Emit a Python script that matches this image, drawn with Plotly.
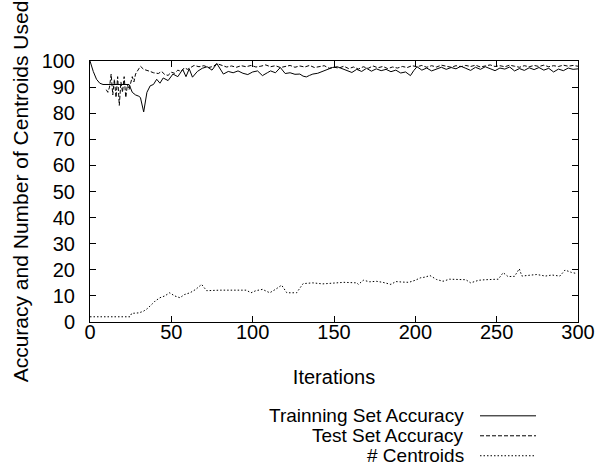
import plotly.graph_objects as go

# ---- data ----
train_x = [0, 2, 4, 6, 8, 10, 12, 14, 16, 18, 20, 22, 24, 26, 28, 30, 31, 33, 35, 37, 39, 41, 43, 45, 48,
           51, 54, 57, 59, 61, 63, 66, 69, 72, 75, 78, 80, 82, 85, 88, 91, 94, 97, 100, 103, 106, 109,
           111, 114, 117, 120, 123, 126, 129, 131, 133, 135, 137, 140, 143, 146, 149, 152, 155, 158,
           161, 164, 167, 170, 173, 176, 179, 182, 185, 188, 191, 194, 197, 199, 201, 204, 207, 210,
           213, 216, 219, 222, 225, 228, 231, 234, 237, 240, 243, 246, 249, 252, 255, 258, 261, 264,
           267, 270, 273, 276, 279, 282, 285, 288, 291, 294, 297, 300]
train_y = [100, 96, 93, 91.5, 91, 91, 91, 91, 91, 91, 91, 91, 91, 88, 87, 86.5, 86, 80.5, 88, 90.5, 91,
           93, 91.5, 93.5, 92.5, 95, 94, 96.8, 94, 97, 93.8, 96, 97.2, 97.8, 96.5, 99, 97, 95, 96, 95.5,
           96.2, 95.3, 94.8, 95.8, 96.2, 94.4, 95.5, 96.2, 95.5, 97.5, 95.2, 95.5, 94.9, 95, 94.2, 93.9,
           94.5, 95, 95.3, 96, 96.6, 97.5, 97.8, 97, 96.5, 95.6, 96.8, 96, 97.2, 96.1, 97, 96.3, 96.8,
           95.9, 96.5, 95.4, 95.8, 94.4, 96.3, 97.8, 96.5, 97.3, 96.2, 96.9, 97.6, 96.8, 97.5, 97, 98,
           97.2, 96.4, 97.6, 96.8, 97.8, 97, 96.3, 97.3, 96.9, 97.7, 96.2, 97.1, 96.4, 97.4, 96.7, 97.5,
           96.5, 97.2, 95.8, 96.9, 96.3, 97.3, 96.8, 97]

test_x = [10, 11, 12, 13, 14, 15, 16, 17, 18, 19, 20, 21, 22, 23, 24, 25, 26, 27, 28, 30, 31, 33, 35,
          37, 39, 42, 44, 46, 48, 50, 52, 54, 56, 58, 60, 62, 64, 67, 70, 73, 76, 78, 81, 84, 87, 90,
          93, 96, 99, 102, 105, 108, 111, 114, 117, 120, 123, 126, 129, 132, 135, 138, 141, 144, 147,
          150, 153, 156, 159, 162, 165, 168, 171, 174, 177, 180, 183, 186, 189, 192, 195, 198, 201,
          204, 207, 210, 213, 216, 219, 222, 225, 228, 231, 234, 237, 240, 243, 246, 249, 252, 255,
          258, 261, 264, 267, 270, 273, 276, 279, 282, 285, 288, 291, 294, 297, 300]
test_y = [89, 88, 90, 95, 87, 93, 86, 94, 83, 92, 88, 94, 86, 91, 89, 92, 94, 92, 95, 97, 98, 96.8,
          96.5, 96, 95.5, 95.2, 96, 94.8, 94.5, 95.7, 95.3, 96.5, 96, 97.4, 96.8, 97.6, 98.3, 97.8,
          98.2, 97.5, 98, 99, 98.2, 97.7, 98.1, 97.6, 98.2, 97.8, 98.3, 97.7, 98, 98.5, 97.8, 98.2,
          97.5, 98, 98.3, 97.6, 98.1, 97.7, 98.3, 97.5, 97.8, 98.2, 97.2, 97.6, 97.3, 98, 97.1, 97.7,
          96.9, 97.8, 97.2, 98.1, 97.4, 97.9, 97.1, 97.7, 97.3, 97.9, 97.5, 98.2, 97.8, 98.3, 97.6,
          98.2, 97.7, 98.4, 98, 97.6, 98.2, 97.8, 98.3, 97.9, 98.4, 97.7, 98.1, 98.5, 97.9, 98.2, 97.8,
          98.4, 98, 97.6, 98.2, 97.8, 98.3, 97.9, 98.4, 97.8, 98.2, 97.9, 98.4, 98, 98.3, 98]

cent_x = [0, 24.6, 25.6, 30, 32.8, 35, 37.9, 40, 43, 46, 49, 52, 55.3, 58, 61.5, 65, 68.6, 71.7, 80,
          90, 96, 99, 102, 106, 110.5, 114, 117.8, 121, 127, 131, 137, 143, 149.6, 156, 164, 165,
          168, 172, 176, 180, 185, 188, 192, 196, 200, 203, 206, 209, 213, 217, 221, 225, 228, 231,
          234, 239, 243, 247.9, 251, 254, 257, 261, 263.9, 265.5, 270, 274.6, 280, 284, 288.9, 292,
          296, 299]
cent_y = [2, 2, 3.3, 3.5, 4.1, 5, 6.7, 8, 9.3, 10, 11.2, 10, 9.3, 10.5, 11.2, 12.5, 14.4, 12, 12.2,
          12.2, 12.2, 11.2, 12, 12.5, 11.2, 12.5, 14.1, 11.2, 11.2, 14.7, 15, 14.6, 15, 15.2, 15, 14.4,
          16, 15.4, 15.6, 15.2, 14.4, 15.5, 15.3, 15.2, 16, 16.9, 17.2, 17.8, 16.3, 15.6, 16.4, 16.3,
          16.5, 16.2, 15, 16, 16.2, 16.3, 16.4, 18.9, 17.4, 17.5, 20.4, 17.6, 17.8, 18.2, 17.6, 18, 17.6,
          19.9, 19, 18.6]

x_ticks = [0, 50, 100, 150, 200, 250, 300]
y_ticks = [0, 10, 20, 30, 40, 50, 60, 70, 80, 90, 100]

series_names = ["Trainning Set Accuracy", "Test Set Accuracy", "# Centroids"]
series_dash = ["solid", "4px,2px", "1.5px,2px"]

FONT = "Liberation Sans, Arial, Helvetica, sans-serif"

fig = go.Figure()
for name, xs, ys, dash in zip(series_names, [train_x, test_x, cent_x], [train_y, test_y, cent_y], series_dash):
    fig.add_trace(go.Scatter(x=xs, y=ys, mode="lines", name=name,
                             line=dict(color="black", width=1, dash=dash), showlegend=False))

axis_common = dict(showline=True, linecolor="black", linewidth=1, mirror="ticks",
                   ticks="inside", ticklen=6, tickcolor="black", showgrid=False, zeroline=False,
                   tickfont=dict(family=FONT, size=20, color="black"))

fig.update_xaxes(range=[0, 300], tickvals=x_ticks, ticklabelstandoff=-8, **axis_common,
                 title=dict(text="Iterations", font=dict(family=FONT, size=20, color="black"), standoff=27))
fig.update_yaxes(range=[0, 100], tickvals=y_ticks, ticklabelstandoff=10, **axis_common,
                 title=dict(text="Accuracy and Number of Centroids Used",
                            font=dict(family=FONT, size=21, color="black"), standoff=7))

# manual legend (text right-aligned, sample line on the right, like gnuplot)
legend_rows_y = [416.5, 436.5, 456.5]
W, H = 596, 465
l, r, t, b = 90, 18, 61, 142.5
pw, ph = W - l - r, H - t - b
def px_to_paper_x(px):
    return (px - l) / pw
def py_to_paper_y(py):
    return (H - b - py) / ph

for name, dash, yy in zip(series_names, series_dash, legend_rows_y):
    fig.add_annotation(x=px_to_paper_x(466), y=py_to_paper_y(yy), xref="paper", yref="paper",
                       text=name, showarrow=False, xanchor="right", yanchor="middle",
                       font=dict(family=FONT, size=19, color="black"))
    fig.add_shape(type="line", xref="paper", yref="paper",
                  x0=px_to_paper_x(480), x1=px_to_paper_x(536),
                  y0=py_to_paper_y(yy), y1=py_to_paper_y(yy),
                  line=dict(color="black", width=1, dash=dash))

fig.update_layout(width=W, height=H, margin=dict(l=l, r=r, t=t, b=b, pad=0, autoexpand=False),
                  plot_bgcolor="white", paper_bgcolor="white", showlegend=False)

fig.write_html("out.html", config={"displayModeBar": False},
               post_script="document.body.style.margin='0';document.body.style.overflow='hidden';")
